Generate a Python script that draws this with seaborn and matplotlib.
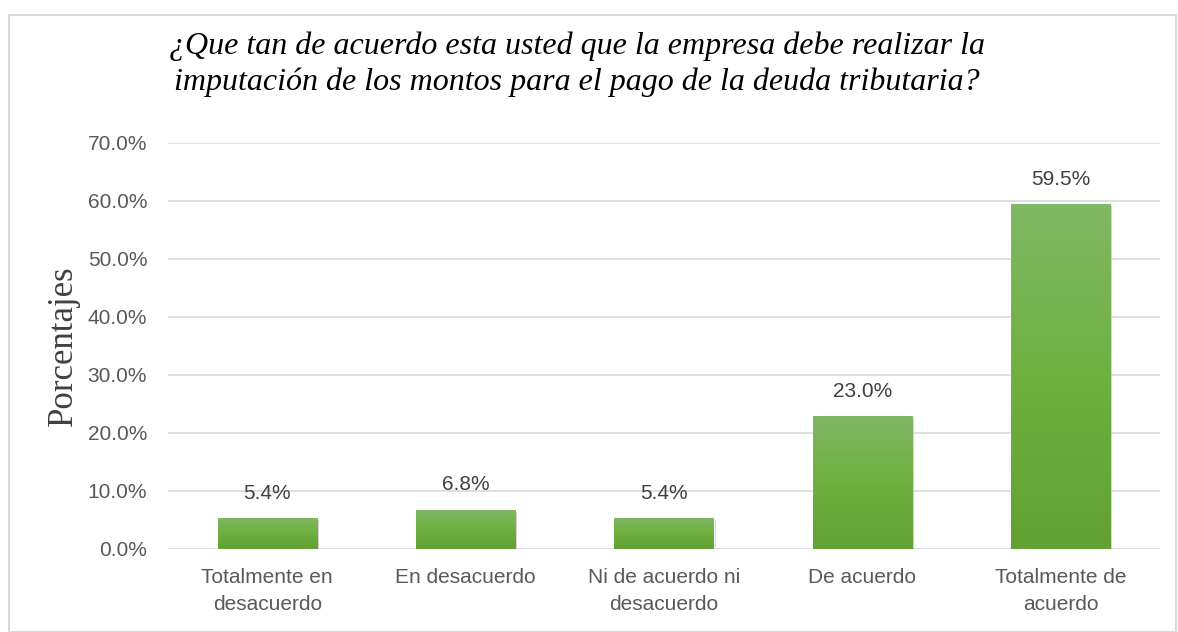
import numpy as np
import pandas as pd
import seaborn as sns
import matplotlib.pyplot as plt
import matplotlib.patheffects as pe
from matplotlib.colors import LinearSegmentedColormap
from matplotlib.patches import Rectangle

categories = ['Totalmente en\ndesacuerdo', 'En desacuerdo', 'Ni de acuerdo ni\ndesacuerdo',
              'De acuerdo', 'Totalmente de\nacuerdo']
percentages = [5.4, 6.8, 5.4, 23.0, 59.5]
title = ('¿Que tan de acuerdo esta usted que la empresa debe realizar la\n'
         'imputación de los montos para el pago de la deuda tributaria?')

df = pd.DataFrame({'categoria': categories, 'porcentaje': percentages})

sns.set_style('white')
plt.rcParams['font.family'] = ['Liberation Sans', 'DejaVu Sans']

fig = plt.figure(figsize=(11.78, 6.32), dpi=100)
ax = fig.add_axes([168 / 1178, 1 - 549 / 632, (1160 - 168) / 1178, (549 - 143) / 632])

sns.barplot(data=df, x='categoria', y='porcentaje', color='#70ad47', width=0.5,
            saturation=1, ax=ax, zorder=3)

# gradient fill on each bar
cmap = LinearSegmentedColormap.from_list('g', ['#62a034', '#6fb040', '#81b865'])
grad = np.linspace(0, 1, 256).reshape(-1, 1)
for bar in ax.patches:
    x0, w, h = bar.get_x(), bar.get_width(), bar.get_height()
    bar.set_path_effects([pe.SimplePatchShadow(offset=(1.5, -1.5), shadow_rgbFace='#999999', alpha=0.5),
                          pe.Normal()])
    im = ax.imshow(grad, extent=(x0, x0 + w, 0, h), origin='lower', cmap=cmap,
                   aspect='auto', zorder=4)
    im.set_clip_path(bar)
    ax.text(x0 + w / 2, h + 2.6, f'{h:.1f}%', ha='center', va='bottom',
            fontsize=15, color='#404040', zorder=5)

ax.set_xlim(-0.5, 4.5)
ax.set_ylim(0, 70)
ax.set_yticks(np.arange(0, 71, 10))
ax.set_yticklabels([f'{v:.1f}%' for v in np.arange(0, 71, 10)])
ax.yaxis.grid(True, color='#d9d9d9', linewidth=1.2, zorder=0)
ax.set_axisbelow(True)
for s in ax.spines.values():
    s.set_visible(False)
ax.tick_params(axis='both', length=0, labelsize=15, labelcolor='#595959')
ax.tick_params(axis='y', pad=15)
ax.tick_params(axis='x', pad=14)
for lbl in ax.get_xticklabels():
    lbl.set_linespacing(1.5)
ax.set_xlabel('')
ax.set_ylabel('Porcentajes', fontsize=25, family=['Liberation Serif'], color='#404040')
ax.yaxis.set_label_coords((80 - 168) / 992, 0.5)

fig.text(577 / 1178, 1 - 64 / 632, title, ha='center', va='center', fontsize=23,
         family=['Liberation Serif'], style='italic', color='black', linespacing=1.3)

fig.patches.append(Rectangle((9 / 1178, 0), 1 - 9 / 1178 - 0.002, 1 - 15 / 632,
                             transform=fig.transFigure, fill=False, edgecolor='#d9d9d9',
                             linewidth=1.5))

fig.savefig('out.png', dpi=100, facecolor='white')
